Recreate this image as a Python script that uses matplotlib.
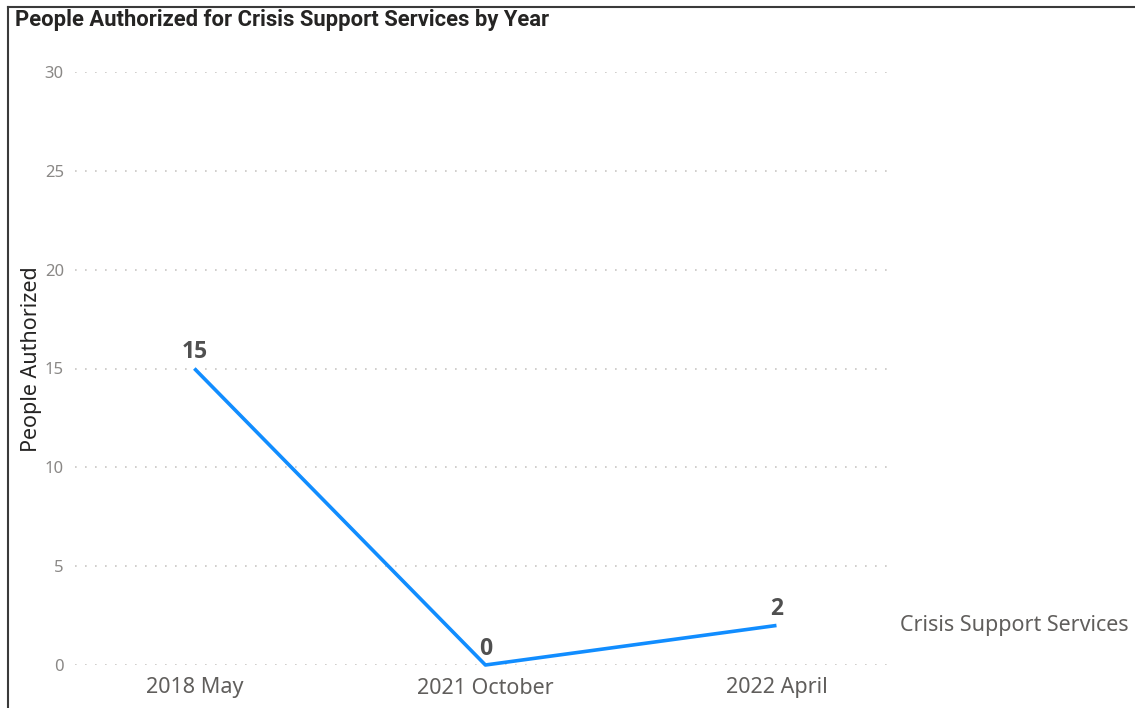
import matplotlib.pyplot as plt
from matplotlib.lines import Line2D

# values per survey period
periods = ['2018 May', '2021 October', '2022 April']
people = [15, 0, 2]
series_name = 'Crisis Support Services'
yticks = [0, 5, 10, 15, 20, 25, 30]

line_color = '#118DFF'
text_gray = '#605E5C'

fig = plt.figure(figsize=(11.35, 7.08), dpi=100)
ax = fig.add_axes([75/1135, 43/708, 815/1135, 593/708])

x = list(range(len(periods)))
ax.plot(x, people, color=line_color, lw=2.6, solid_capstyle='butt', clip_on=False, zorder=3)

# data labels above each point
for xi, v in zip(x, people):
    ax.annotate(str(v), (xi, v), xytext=(0, 3), textcoords='offset points',
                ha='center', va='bottom', fontsize=16.5, fontweight='bold',
                color='#505050', family=['Open Sans', 'DejaVu Sans'])

# series name to the right of the last point
ax.annotate(series_name, (x[-1], people[-1]), xytext=(124, 0),
            textcoords='offset pixels', ha='left', va='center', fontsize=15.5,
            color=text_gray, family='Noto Sans', annotation_clip=False)

ax.set_xlim(-0.41, 2.39)
ax.set_ylim(0, 30)
ax.set_yticks(yticks)
ax.set_xticks(x)
ax.set_xticklabels(periods, fontsize=15.5, color=text_gray, family='Noto Sans')
for lbl in ax.get_yticklabels():
    lbl.set_fontsize(12)
    lbl.set_color('#8a8886')
    lbl.set_family('Noto Sans')
ax.tick_params(axis='both', length=0)
ax.tick_params(axis='y', pad=8)
ax.tick_params(axis='x', pad=9)

ax.grid(axis='y', color='#C8C6C4', linestyle=(0, (1, 5)), lw=1.2)
ax.set_axisbelow(True)
for s in ax.spines.values():
    s.set_visible(False)

ax.set_ylabel('People Authorized', fontsize=15.5, color='#252423', family='Noto Sans')
ax.yaxis.set_label_coords(-0.040, 0.516)

fig.text(15/1135, 1 - 20/708, 'People Authorized for Crisis Support Services by Year',
         ha='left', va='center', fontsize=15.8, fontweight='bold', color='#252423',
         family=['Roboto', 'DejaVu Sans'])

# visual frame: left and top edges only
fig.add_artist(Line2D([7.5/1135, 7.5/1135], [0, 1 - 6.5/708], transform=fig.transFigure, color='#3a3a3a', lw=1.5))
fig.add_artist(Line2D([7.5/1135, 1], [1 - 6.5/708, 1 - 6.5/708], transform=fig.transFigure, color='#3a3a3a', lw=1.5))

fig.savefig('out.png', dpi=100)
